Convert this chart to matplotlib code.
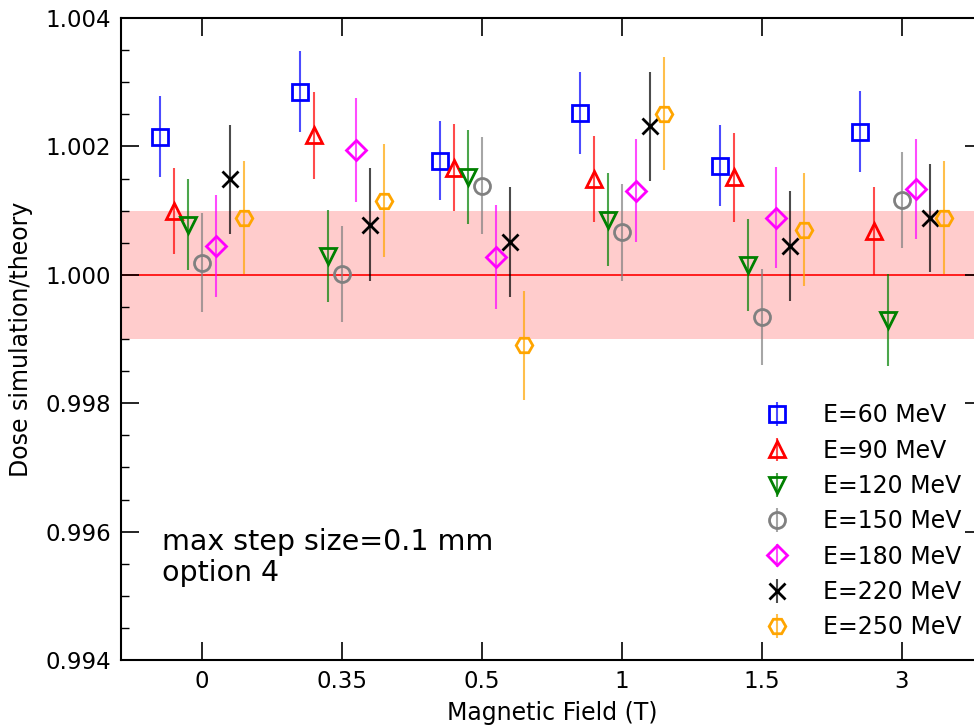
import numpy as np
import matplotlib
matplotlib.use("Agg")
import matplotlib.pyplot as plt
from matplotlib.ticker import MultipleLocator, FormatStrFormatter

# Magnetic field settings (categorical axis)
field_labels = ["0", "0.35", "0.5", "1", "1.5", "3"]

# Dose ratio (simulation / theory) and statistical uncertainty per beam energy
e60 = [1.00215, 1.00285, 1.00178, 1.00252, 1.00170, 1.00223]
e60_err = [0.00063, 0.00063, 0.00062, 0.00064, 0.00063, 0.00063]
e90 = [1.00099, 1.00217, 1.00167, 1.00149, 1.00152, 1.00068]
e90_err = [0.00067, 0.00068, 0.00068, 0.00067, 0.00069, 0.00068]
e120 = [1.00078, 1.00029, 1.00152, 1.00086, 1.00015, 0.99930]
e120_err = [0.00071, 0.00072, 0.00073, 0.00072, 0.00072, 0.00072]
e150 = [1.00019, 1.00001, 1.00139, 1.00066, 0.99934, 1.00117]
e150_err = [0.00077, 0.00075, 0.00075, 0.00075, 0.00075, 0.00075]
e180 = [1.00045, 1.00195, 1.00027, 1.00131, 1.00089, 1.00134]
e180_err = [0.00079, 0.00081, 0.00081, 0.00080, 0.00079, 0.00078]
e220 = [1.00149, 1.00078, 1.00051, 1.00231, 1.00045, 1.00089]
e220_err = [0.00085, 0.00088, 0.00085, 0.00085, 0.00086, 0.00084]
e250 = [1.00089, 1.00115, 0.99890, 1.00251, 1.00070, 1.00089]
e250_err = [0.00088, 0.00088, 0.00085, 0.00088, 0.00088, 0.00088]

series_labels = ["E=60 MeV", "E=90 MeV", "E=120 MeV", "E=150 MeV",
                 "E=180 MeV", "E=220 MeV", "E=250 MeV"]
series_values = [e60, e90, e120, e150, e180, e220, e250]
series_errors = [e60_err, e90_err, e120_err, e150_err, e180_err, e220_err, e250_err]

colors = ["blue", "red", "green", "gray", "magenta", "black", "orange"]
markers = ["s", "^", "v", "o", "D", "x", "H"]
sizes = [11, 12, 12, 11.5, 10.5, 11, 12]
offsets = [-0.3, -0.2, -0.1, 0.0, 0.1, 0.2, 0.3]

fig = plt.figure(figsize=(9.74, 7.27), dpi=100)
ax = fig.add_axes([121 / 974, 67 / 727, 862 / 974, 642 / 727])

x = np.arange(len(field_labels))

# +/- 0.1 % tolerance band around unity
ax.axhspan(0.999, 1.001, color="red", alpha=0.2, lw=0, zorder=0)
ax.axhline(1.0, color="red", lw=1.2, zorder=1)

for vals, errs, lab, c, m, ms, off in zip(series_values, series_errors, series_labels,
                                          colors, markers, sizes, offsets):
    eb = ax.errorbar(x + off, vals, yerr=errs, fmt=m, color=c, mfc="none", mec=c,
                     ms=ms, mew=2.0, elinewidth=1.5, capsize=0, ls="none",
                     label=lab, zorder=3)
    eb[2][0].set_alpha(0.7)

ax.set_xlim(-0.58, 5.58)
ax.set_ylim(0.994, 1.004)
ax.set_xticks(x)
ax.set_xticklabels(field_labels)
ax.yaxis.set_major_locator(MultipleLocator(0.002))
ax.yaxis.set_minor_locator(MultipleLocator(0.0005))
ax.yaxis.set_major_formatter(FormatStrFormatter("%.3f"))

ax.tick_params(which="major", direction="in", length=13, width=1.2,
               top=True, right=True, labelsize=16.5, pad=7)
ax.tick_params(which="minor", direction="in", length=6, width=1.0,
               top=False, right=True, bottom=False)
for sp in ax.spines.values():
    sp.set_linewidth(1.5)

ax.set_xlabel("Magnetic Field (T)", fontsize=17, labelpad=6)
ax.set_ylabel("Dose simulation/theory", fontsize=17, labelpad=9)

ax.text(0.048, 0.205, "max step size=0.1 mm\noption 4", transform=ax.transAxes,
        fontsize=20.5, va="top", ha="left", linespacing=1.1)

ax.legend(loc="lower right", bbox_to_anchor=(0.992, 0.01), frameon=False,
          fontsize=17, handletextpad=0.95, labelspacing=0.48, borderaxespad=0.2)

fig.savefig("out.png", dpi=100)
